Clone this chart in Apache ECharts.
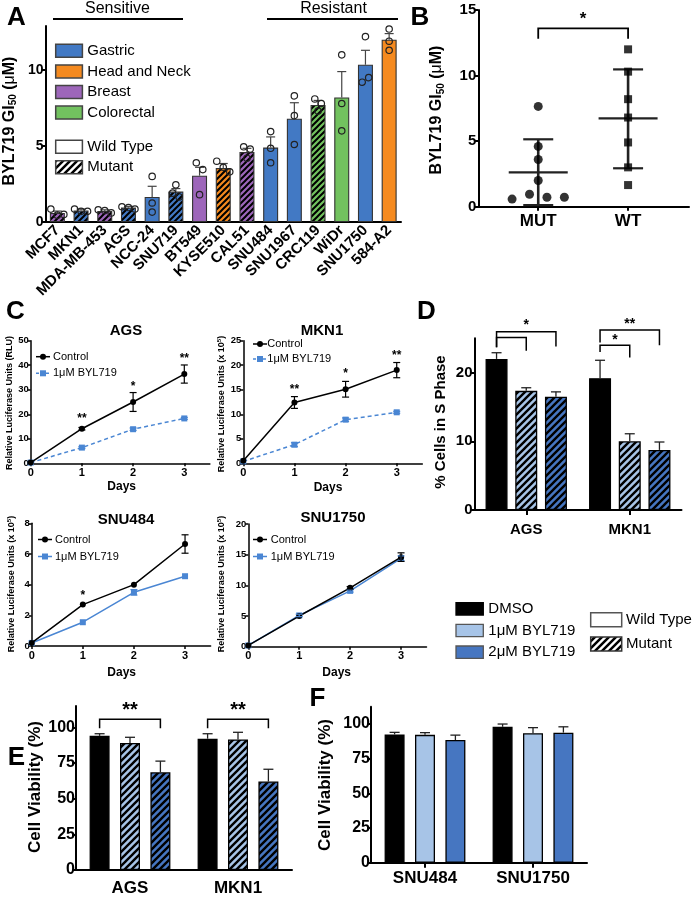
<!DOCTYPE html>
<html>
<head>
<meta charset="utf-8">
<script src="https://cdn.jsdelivr.net/npm/echarts@6.0.0/dist/echarts.min.js"></script>
<style>
html,body{margin:0;padding:0;background:#fff;}
#chart{width:695px;height:900px;}
</style>
</head>
<body>
<div id="chart"></div>
<script>
// ================= DATA =================
// Panel A : BYL719 GI50 per cell line
const aCells = ['MCF7','MKN1','MDA-MB-453','AGS','NCC-24','SNU719','BT549','KYSE510','CAL51','SNU484','SNU1967','CRC119','WiDr','SNU1750','584-A2'];
const aTissue = ['Breast','Gastric','Breast','Gastric','Gastric','Gastric','Breast','Head and Neck','Breast','Gastric','Gastric','Colorectal','Colorectal','Gastric','Head and Neck'];
const aMutant = [1,1,1,1,0,1,0,1,1,0,0,1,0,0,0];
const aGI50 = [0.6,0.75,0.72,0.95,1.65,2.0,3.05,3.55,4.6,4.9,6.8,7.7,8.2,10.35,12.0];
const aSemTop = [0.72,0.85,0.8,1.03,2.35,2.2,3.6,3.85,4.85,5.6,7.85,8.0,9.9,11.3,12.4];
const aReplicates = [[0.85,0.45,0.5],[0.85,0.7,0.7],[0.8,0.75,0.6],[1.0,0.95,0.85],[3.0,1.25,0.65],[2.45,1.9,1.65],[3.9,3.45,1.8],[4.0,3.6,3.3],[4.95,4.8,4.2],[5.95,4.85,3.9],[8.3,7.0,5.1],[8.1,7.8,7.3],[11.0,7.8,6.0],[12.2,9.2,9.5],[12.7,11.9,11.3]];
const aTissueLegend = ['Gastric','Head and Neck','Breast','Colorectal'];
const aStatusLegend = ['Wild Type','Mutant'];
const aGroupLabels = ['Sensitive','Resistant'];
const aYTicks = [0,5,10];

// Panel B : MUT vs WT
const bGroups = ['MUT','WT'];
const bMut = [0.58,0.95,0.72,0.72,2.0,3.6,4.6,7.65];
const bWT = [12.0,10.3,8.2,6.8,4.9,3.0,1.65];
const bMean = [2.62,6.73];
const bSdLow = [0.12,2.93];
const bSdHigh = [5.14,10.47];
const bBracket = [0,1,13.6,12.8,12.8];
const bStar = '*';
const bStarY = 14.6;
const bYTicks = [0,5,10,15];

// Panel C : luciferase growth curves
const cDays = [0,1,2,3];
const cSeriesNames = ['Control','1μM BYL719'];
const cTitles = ['AGS','MKN1','SNU484','SNU1750'];
const cAgsCtrl = [0.3,14.1,25.0,36.4];
const cAgsCtrlErr = [0,0.5,3.85,3.7];
const cAgsByl = [0.3,6.4,13.9,18.3];
const cAgsBylErr = [0,0.4,0.5,0.4];
const cAgsStars = ['','**','*','**'];
const cAgsStarY = [0,19.3,32.3,43.6];
const cAgsTicks = [0,10,20,30,40,50];
const cMkn1Ctrl = [0.5,12.4,15.1,19.0];
const cMkn1CtrlErr = [0,1.2,1.6,1.55];
const cMkn1Byl = [0.4,3.8,8.9,10.4];
const cMkn1BylErr = [0,0.4,0.35,0.2];
const cMkn1Stars = ['','**','*','**'];
const cMkn1StarY = [0,15.6,18.9,22.4];
const cMkn1Ticks = [0,5,10,15,20,25];
const cSnu484Ctrl = [0.2,2.7,4.0,6.65];
const cSnu484CtrlErr = [0,0.08,0.1,0.6];
const cSnu484Byl = [0.2,1.55,3.5,4.55];
const cSnu484BylErr = [0,0.08,0.18,0.08];
const cSnu484Stars = ['','*','',''];
const cSnu484StarY = [0,3.45,0,0];
const cSnu484Ticks = [0,2,4,6,8];
const cSnu1750Ctrl = [0.2,5.0,9.6,14.6];
const cSnu1750CtrlErr = [0,0.15,0.2,0.7];
const cSnu1750Byl = [0.2,5.1,9.1,14.4];
const cSnu1750BylErr = [0,0.2,0.2,0.4];
const cSnu1750Stars = ['','','',''];
const cSnu1750StarY = [0,0,0,0];
const cSnu1750Ticks = [0,5,10,15,20];

// Panel D : % cells in S phase
const dCells = ['AGS','MKN1'];
const dTreat = ['DMSO','1μM BYL719','2μM BYL719'];
const dDMSO = [22.0,19.2];
const d1uM = [17.35,10.0];
const d2uM = [16.5,8.75];
const dDMSOTop = [22.9,21.8];
const d1uMTop = [17.8,11.1];
const d2uMTop = [17.2,9.9];
const dYTicks = [0,10,20];
const dBrackets = [[0,0,2,25.95,23.7,23.8],[0,0,1,25.1,23.7,23.2],[1,0,2,26.2,24.4,24.0],[1,0,1,24.0,23.0,22.2]];
const dStars = ['*','**','*'];
const dStarPos = [[0,1,27.4],[1,1,27.55],[1,0.5,25.15]];

// Panel E : cell viability (mutant lines)
const eCells = ['AGS','MKN1'];
const eDMSO = [94,92];
const e1uM = [89,91.5];
const e2uM = [68.5,62];
const eDMSOTop = [95.5,95.5];
const e1uMTop = [93,96.5];
const e2uMTop = [76.3,70.6];
const eYTicks = [0,25,50,75,100];
const eBrackets = [[0,0,2,105.6,99.3,99.3],[1,0,2,105.6,99.3,99.3]];
const eStars = ['**','**'];
const eStarPos = [[0,1,114.7],[1,1,114.7]];

// Panel F : cell viability (wild type lines)
const fCells = ['SNU484','SNU1750'];
const fDMSO = [92.5,98];
const f1uM = [92.2,93.4];
const f2uM = [88.5,93.8];
const fDMSOTop = [94,100];
const f1uMTop = [93.8,97.4];
const f2uMTop = [92,98];
const fYTicks = [0,25,50,75,100];

// ================= STYLE / HELPERS =================
const FONT = '"Liberation Sans", Arial, Helvetica, sans-serif';
const COL = {'Gastric':'#4279c4','Head and Neck':'#f58a1f','Breast':'#9d66ba','Colorectal':'#72c25f'};
const TREAT_COL = ['#000000','#a7c4e7','#4676c1'];
const BLUE = '#4a86d3';

const hatchCache = {};
function hatch(bg, p, lw) {
  const key = bg + '|' + p + '|' + lw;
  if (hatchCache[key]) return hatchCache[key];
  const c = document.createElement('canvas');
  c.width = p; c.height = p;
  const g = c.getContext('2d');
  g.fillStyle = bg; g.fillRect(0, 0, p, p);
  g.strokeStyle = '#000'; g.lineWidth = lw;
  g.beginPath();
  [0, p, 2 * p].forEach(s => { g.moveTo(s + 3, -3); g.lineTo(-3, s + 3); });
  g.stroke();
  return (hatchCache[key] = { image: c, repeat: 'repeat' });
}

function swarm(vals, thr) {
  const order = vals.map((v, i) => i).sort((a, b) => vals[a] - vals[b]);
  const groups = []; let cur = [];
  order.forEach(i => {
    if (cur.length && vals[i] - vals[cur[cur.length - 1]] > thr) { groups.push(cur); cur = []; }
    cur.push(i);
  });
  if (cur.length) groups.push(cur);
  const off = vals.map(() => 0);
  groups.forEach(g => { g.sort((a, b) => a - b); g.forEach((i, j) => { off[i] = j - (g.length - 1) / 2; }); });
  return off;
}

function errItem(step, cap, color, lw, both) {
  return function (params, api) {
    const c = api.value(0), k = api.value(1), lo = api.value(2), hi = api.value(3);
    const p1 = api.coord([c, lo]), p2 = api.coord([c, hi]);
    const x = p1[0] + k * step;
    const st = { stroke: color, lineWidth: lw };
    const ch = [
      { type: 'line', shape: { x1: x, y1: p1[1], x2: x, y2: p2[1] }, style: st },
      { type: 'line', shape: { x1: x - cap, y1: p2[1], x2: x + cap, y2: p2[1] }, style: st }];
    if (both) ch.push({ type: 'line', shape: { x1: x - cap, y1: p1[1], x2: x + cap, y2: p1[1] }, style: st });
    return { type: 'group', children: ch };
  };
}
function textItem(texts, step, fs) {
  return function (params, api) {
    const p = api.coord([api.value(0), api.value(2)]);
    return { type: 'text', x: p[0] + api.value(1) * step, y: p[1] + 0.22 * fs,
      style: { text: texts[params.dataIndex], fontSize: fs, fontWeight: 'bold', fontFamily: FONT, fill: '#000',
        align: 'center', verticalAlign: 'middle', textAlign: 'center', textVerticalAlign: 'middle' } };
  };
}
function bracketItem(step, color, lw) {
  return function (params, api) {
    const a = api.coord([api.value(0), api.value(4)]), b = api.coord([api.value(2), api.value(4)]);
    const xl = a[0] + api.value(1) * step, xr = b[0] + api.value(3) * step;
    const yl = api.coord([api.value(0), api.value(5)])[1], yr = api.coord([api.value(2), api.value(6)])[1];
    return { type: 'polyline', shape: { points: [[xl, yl], [xl, a[1]], [xr, a[1]], [xr, yr]] },
      style: { stroke: color, lineWidth: lw, fill: null } };
  };
}
function dotItem(step) {
  return function (params, api) {
    const p = api.coord([api.value(0), api.value(2)]);
    return { type: 'circle', shape: { cx: p[0] + api.value(1) * step, cy: p[1], r: 3.2 },
      style: { fill: null, stroke: '#222', lineWidth: 1.2 } };
  };
}
function meanSdItem(halfMean, cap) {
  return function (params, api) {
    const x = api.value(0);
    const pm = api.coord([x, api.value(1)]), pl = api.coord([x, api.value(2)]), ph = api.coord([x, api.value(3)]);
    const st = { stroke: '#222', lineWidth: 2.2 };
    return { type: 'group', children: [
      { type: 'line', shape: { x1: pm[0], y1: pl[1], x2: pm[0], y2: ph[1] }, style: { stroke: '#222', lineWidth: 2.6 } },
      { type: 'line', shape: { x1: pm[0] - halfMean, y1: pm[1], x2: pm[0] + halfMean, y2: pm[1] }, style: st },
      { type: 'line', shape: { x1: pm[0] - cap, y1: pl[1], x2: pm[0] + cap, y2: pl[1] }, style: st },
      { type: 'line', shape: { x1: pm[0] - cap, y1: ph[1], x2: pm[0] + cap, y2: ph[1] }, style: st }] };
  };
}

function vAxis(gi, min, max, ticks, fs, o) {
  o = o || {};
  const lw = o.lw || 2;
  const lab = { show: true, customValues: ticks, fontSize: fs, fontWeight: 'bold', color: '#000', fontFamily: FONT,
    margin: o.margin == null ? 2 : o.margin };
  if (o.fmt) lab.formatter = o.fmt;
  return { type: 'value', gridIndex: gi, min: min, max: max,
    axisLine: { show: true, onZero: false, lineStyle: { color: '#000', width: lw } },
    axisTick: { show: true, length: o.tl || 4, customValues: ticks, lineStyle: { color: '#000', width: lw } },
    axisLabel: lab, splitLine: { show: false } };
}
function cAxis(gi, cats, fs, o) {
  o = o || {};
  const lw = o.lw || 2;
  return { type: 'category', gridIndex: gi, data: cats,
    axisLine: { show: true, onZero: false, lineStyle: { color: '#000', width: lw } },
    axisTick: { show: o.tick !== false, alignWithLabel: true, length: 5, lineStyle: { color: '#000', width: lw } },
    axisLabel: { interval: 0, rotate: o.rotate || 0, fontSize: fs, fontWeight: 'bold', color: '#000', fontFamily: FONT, margin: o.margin || 6 },
    splitLine: { show: false } };
}

// ================= GRAPHIC (texts, legends) =================
const G = [];
function txt(x, y, text, fs, o) {
  o = o || {};
  const st = { text: text, fontSize: fs, fontWeight: o.w || 'bold', fontFamily: FONT, fill: '#000',
    align: o.align || 'center', verticalAlign: 'middle', textAlign: o.align || 'center', textVerticalAlign: 'middle' };
  if (o.rich) st.rich = o.rich;
  G.push({ type: 'text', x: x, y: y, rotation: o.rot || 0, z: 100, silent: true, style: st });
}
function seg(x1, y1, x2, y2, w, c, dash) {
  const st = { stroke: c || '#000', lineWidth: w };
  if (dash) st.lineDash = dash;
  G.push({ type: 'line', z: 100, silent: true, shape: { x1: x1, y1: y1, x2: x2, y2: y2 }, style: st });
}
function box(x, y, w, h, fill, stroke, lw) {
  G.push({ type: 'rect', z: 100, silent: true, shape: { x: x, y: y, width: w, height: h },
    style: { fill: fill, stroke: stroke || '#333', lineWidth: lw || 1.5 } });
}
function dot(cx, cy, r, c) { G.push({ type: 'circle', z: 101, silent: true, shape: { cx: cx, cy: cy, r: r }, style: { fill: c } }); }

// panel letters
txt(16.5, 18, 'A', 26); txt(420, 18, 'B', 26); txt(15.5, 312, 'C', 26);
txt(426.5, 312, 'D', 26); txt(16.5, 758, 'E', 26); txt(317.5, 699, 'F', 26);

// A: group labels
txt(117.5, 8.5, aGroupLabels[0], 16, { w: 'normal' }); seg(53, 19, 183, 19, 1.8);
txt(333.5, 8.5, aGroupLabels[1], 16, { w: 'normal' }); seg(267, 19, 398, 19, 1.8);
// A legend
aTissueLegend.forEach((t, i) => {
  const y = 50.8 + i * 20.6;
  box(55.7, y - 6.5, 26.7, 13, COL[t], '#444', 1.5);
  txt(87.3, y, t, 15, { w: 'normal', align: 'left' });
});
aStatusLegend.forEach((t, i) => {
  const y = 146.7 + i * 20.6;
  box(55.7, y - 6.5, 26.7, 13, i ? hatch('#ffffff', 7, 2.5) : '#ffffff', '#444', 1.5);
  txt(87.3, y, t, 15, { w: 'normal', align: 'left' });
});
const gi50Rich = { b: { fontSize: 16, fontWeight: 'bold', fontFamily: FONT },
  s: { fontSize: 10, fontWeight: 'bold', fontFamily: FONT, padding: [8, 0, 0, 0] },
  m: { fontSize: 16, fontWeight: 'normal', fontFamily: FONT } };
txt(9.5, 121, '{b|BYL719 GI}{s|50}{b| (}{m|μ}{b|M)}', 16, { rot: Math.PI / 2, rich: gi50Rich });
txt(437, 110, '{b|BYL719 GI}{s|50}{b| (}{m|μ}{b|M)}', 16, { rot: Math.PI / 2, rich: gi50Rich });

// C titles / axis names / legends
const cTitlePos = [[126, 331], [322, 331], [126, 520], [333, 518]];
cTitles.forEach((t, i) => txt(cTitlePos[i][0], cTitlePos[i][1], t, 15));
const cDaysPos = [[121.7, 487], [328, 488], [121.7, 672.7], [336.7, 672.7]];
cDaysPos.forEach(p => txt(p[0], p[1], 'Days', 12));
const supRich = { b: { fontSize: 9, fontWeight: 'bold', fontFamily: FONT },
  p: { fontSize: 6, fontWeight: 'bold', fontFamily: FONT, padding: [0, 0, 5, 0] } };
txt(10, 403, 'Relative Luciferase Units (RLU)', 9, { rot: Math.PI / 2 });
txt(221.7, 404, '{b|Relative Luciferase Units (x 10}{p|5}{b|)}', 9, { rot: Math.PI / 2, rich: supRich });
txt(11.5, 584, '{b|Relative Luciferase Units (x 10}{p|5}{b|)}', 9, { rot: Math.PI / 2, rich: supRich });
txt(221.5, 584, '{b|Relative Luciferase Units (x 10}{p|5}{b|)}', 9, { rot: Math.PI / 2, rich: supRich });
function cLegend(mx, y0, dy, tx, dashed) {
  seg(mx - 7, y0, mx + 7, y0, 1.5, '#000'); dot(mx, y0, 3, '#000');
  txt(tx, y0, cSeriesNames[0], 11, { w: 'normal', align: 'left' });
  seg(mx - 7, y0 + dy, mx + 7, y0 + dy, 1.5, BLUE, dashed ? [3, 2] : null);
  G.push({ type: 'rect', z: 101, silent: true, shape: { x: mx - 3, y: y0 + dy - 3, width: 6, height: 6 }, style: { fill: BLUE } });
  txt(tx, y0 + dy, cSeriesNames[1], 11, { w: 'normal', align: 'left' });
}
cLegend(43, 356.7, 16.6, 53, true);
cLegend(260, 344, 15, 267.3, true);
cLegend(45, 539.5, 17, 55, false);
cLegend(260, 539.5, 17, 270.7, false);

// D axis name, legends
txt(441, 422, '% Cells in S Phase', 15, { rot: Math.PI / 2 });
dTreat.forEach((t, i) => {
  const y = 608.8 + i * 21.7;
  box(456, y - 6.2, 27.3, 12.4, TREAT_COL[i], i === 0 ? '#000' : '#555', 1.3);
  txt(488.3, y, t, 15, { w: 'normal', align: 'left' });
});
box(590.7, 612.7, 31, 14, '#ffffff', '#555', 1.5);
txt(626, 620, aStatusLegend[0], 15, { w: 'normal', align: 'left' });
box(590.7, 637, 31, 14, hatch('#ffffff', 7, 2.5), '#333', 1.5);
txt(626, 644, aStatusLegend[1], 15, { w: 'normal', align: 'left' });

// E / F axis names
txt(35, 787, 'Cell Viability (%)', 17, { rot: Math.PI / 2 });
txt(325, 785, 'Cell Viability (%)', 17, { rot: Math.PI / 2 });

// ================= SERIES =================
const S = [];
// ---- A ----
S.push({ type: 'bar', xAxisIndex: 0, yAxisIndex: 0, barWidth: 15, z: 2,
  itemStyle: { borderColor: '#333', borderWidth: 1.1 },
  data: aGI50.map((v, i) => ({ value: v, itemStyle: { color: aMutant[i] ? hatch(COL[aTissue[i]], 6, 2) : COL[aTissue[i]] } })) });
S.push({ type: 'custom', xAxisIndex: 0, yAxisIndex: 0, z: 3, silent: true,
  renderItem: errItem(0, 4.5, '#444', 1.2, false), data: aGI50.map((v, i) => [i, 0, v, aSemTop[i]]) });
const aDots = [];
aReplicates.forEach((r, i) => { const off = swarm(r, 0.45); r.forEach((v, j) => aDots.push([i, off[j], v])); });
S.push({ type: 'custom', xAxisIndex: 0, yAxisIndex: 0, z: 4, silent: true, renderItem: dotItem(6.5), data: aDots });

// ---- B ----
const offM = swarm(bMut, 0.5), offW = swarm(bWT, 0.5);
S.push({ type: 'scatter', xAxisIndex: 1, yAxisIndex: 1, z: 4, symbol: 'circle', symbolSize: 9, itemStyle: { color: '#000' },
  data: bMut.map((v, i) => [0 + offM[i] * 0.194, v]) });
S.push({ type: 'scatter', xAxisIndex: 1, yAxisIndex: 1, z: 4, symbol: 'rect', symbolSize: 8, itemStyle: { color: '#000' },
  data: bWT.map((v, i) => [1 + offW[i] * 0.194, v]) });
S.push({ type: 'custom', xAxisIndex: 1, yAxisIndex: 1, z: 3, silent: true, renderItem: meanSdItem(29.5, 15),
  data: bGroups.map((g, i) => [i, bMean[i], bSdLow[i], bSdHigh[i]]) });
S.push({ type: 'custom', xAxisIndex: 1, yAxisIndex: 1, z: 3, silent: true, renderItem: bracketItem(0, '#000', 1.8),
  data: [[bBracket[0], 0, bBracket[1], 0, bBracket[2], bBracket[3], bBracket[4]]] });
S.push({ type: 'custom', xAxisIndex: 1, yAxisIndex: 1, z: 3, silent: true, renderItem: textItem([bStar], 0, 17),
  data: [[(bBracket[0] + bBracket[1]) / 2, 0, bStarY]] });

// ---- C ----
const cPanels = [
  { gi: 2, ctrl: cAgsCtrl, ctrlErr: cAgsCtrlErr, byl: cAgsByl, bylErr: cAgsBylErr, stars: cAgsStars, starY: cAgsStarY, dashed: true },
  { gi: 3, ctrl: cMkn1Ctrl, ctrlErr: cMkn1CtrlErr, byl: cMkn1Byl, bylErr: cMkn1BylErr, stars: cMkn1Stars, starY: cMkn1StarY, dashed: true },
  { gi: 4, ctrl: cSnu484Ctrl, ctrlErr: cSnu484CtrlErr, byl: cSnu484Byl, bylErr: cSnu484BylErr, stars: cSnu484Stars, starY: cSnu484StarY, dashed: false },
  { gi: 5, ctrl: cSnu1750Ctrl, ctrlErr: cSnu1750CtrlErr, byl: cSnu1750Byl, bylErr: cSnu1750BylErr, stars: cSnu1750Stars, starY: cSnu1750StarY, dashed: false }
];
cPanels.forEach(p => {
  const ax = { xAxisIndex: p.gi, yAxisIndex: p.gi };
  S.push(Object.assign({ type: 'line', name: cSeriesNames[1], z: 3, symbol: 'rect', symbolSize: 6,
    lineStyle: { color: BLUE, width: 1.5, type: p.dashed ? [4, 3] : 'solid' }, itemStyle: { color: BLUE },
    data: cDays.map((d, i) => [d, p.byl[i]]) }, ax));
  S.push(Object.assign({ type: 'line', name: cSeriesNames[0], z: 4, symbol: 'circle', symbolSize: 6,
    lineStyle: { color: '#000', width: 1.5 }, itemStyle: { color: '#000' },
    data: cDays.map((d, i) => [d, p.ctrl[i]]) }, ax));
  S.push(Object.assign({ type: 'custom', z: 5, silent: true, renderItem: errItem(0, 3.5, BLUE, 1.2, true),
    data: cDays.map((d, i) => [d, 0, p.byl[i] - p.bylErr[i], p.byl[i] + p.bylErr[i]]).filter((r, i) => p.bylErr[i] > 0.15) }, ax));
  S.push(Object.assign({ type: 'custom', z: 5, silent: true, renderItem: errItem(0, 3.5, '#000', 1.2, true),
    data: cDays.map((d, i) => [d, 0, p.ctrl[i] - p.ctrlErr[i], p.ctrl[i] + p.ctrlErr[i]]).filter((r, i) => p.ctrlErr[i] > 0.15) }, ax));
  const st = p.stars.filter(s => s);
  if (st.length) S.push(Object.assign({ type: 'custom', z: 5, silent: true, renderItem: textItem(st, 0, 12),
    data: cDays.map((d, i) => [d, 0, p.starY[i]]).filter((r, i) => p.stars[i]) }, ax));
});

// ---- D / E / F bars ----
function barPanel(gi, vals, tops, bw, gap, hatched, lwBorder) {
  const step = bw * (1 + gap);
  vals.forEach((arr, k) => S.push({ type: 'bar', xAxisIndex: gi, yAxisIndex: gi, barWidth: bw, barGap: (gap * 100) + '%', z: 2,
    itemStyle: { color: (hatched && k > 0) ? hatch(TREAT_COL[k], 7, 2.4) : TREAT_COL[k], borderColor: '#000', borderWidth: lwBorder },
    data: arr }));
  const ed = [];
  vals.forEach((arr, k) => arr.forEach((v, c) => ed.push([c, k - 1, v, tops[k][c]])));
  S.push({ type: 'custom', xAxisIndex: gi, yAxisIndex: gi, z: 3, silent: true, renderItem: errItem(step, 5, '#222', 1.3, false), data: ed });
  return step;
}
const dStep = barPanel(6, [dDMSO, d1uM, d2uM], [dDMSOTop, d1uMTop, d2uMTop], 22, 0.35, true, 1.3);
S.push({ type: 'custom', xAxisIndex: 6, yAxisIndex: 6, z: 3, silent: true, renderItem: bracketItem(dStep, '#000', 1.5),
  data: dBrackets.map(b => [b[0], b[1] - 1, b[0], b[2] - 1, b[3], b[4], b[5]]) });
S.push({ type: 'custom', xAxisIndex: 6, yAxisIndex: 6, z: 3, silent: true, renderItem: textItem(dStars, dStep, 14),
  data: dStarPos.map(s => [s[0], s[1] - 1, s[2]]) });

const eStep = barPanel(7, [eDMSO, e1uM, e2uM], [eDMSOTop, e1uMTop, e2uMTop], 20, 0.52, true, 1.3);
S.push({ type: 'custom', xAxisIndex: 7, yAxisIndex: 7, z: 3, silent: true, renderItem: bracketItem(eStep, '#000', 1.5),
  data: eBrackets.map(b => [b[0], b[1] - 1, b[0], b[2] - 1, b[3], b[4], b[5]]) });
S.push({ type: 'custom', xAxisIndex: 7, yAxisIndex: 7, z: 3, silent: true, renderItem: textItem(eStars, eStep, 20),
  data: eStarPos.map(s => [s[0], s[1] - 1, s[2]]) });

barPanel(8, [fDMSO, f1uM, f2uM], [fDMSOTop, f1uMTop, f2uMTop], 20, 0.52, false, 1.3);

// ================= OPTION =================
const option = {
  animation: false,
  backgroundColor: '#ffffff',
  textStyle: { fontFamily: FONT },
  grid: [
    { left: 45.5, top: 26, width: 355.5, height: 196 },
    { left: 478.3, top: 10, width: 210.7, height: 196.7 },
    { left: 30.7, top: 340.7, width: 179.2, height: 122.6 },
    { left: 243.3, top: 340.7, width: 179, height: 122.6 },
    { left: 31.7, top: 523.3, width: 178.9, height: 122.7 },
    { left: 248.3, top: 524, width: 178.2, height: 122.7 },
    { left: 474.5, top: 338.3, width: 207, height: 171.7 },
    { left: 76, top: 705.9, width: 216, height: 164.1 },
    { left: 371, top: 706.7, width: 216, height: 156 }
  ],
  xAxis: [
    cAxis(0, aCells, 15, { tick: false, rotate: 45, margin: 6 }),
    vAxis(1, -0.667, 1.678, [0, 1], 17, { fmt: v => bGroups[Math.round(v)], margin: 6 }),
    vAxis(2, 0, 3.5, cDays, 11, { lw: 1.5, tl: 3, margin: 4 }),
    vAxis(3, 0, 3.5, cDays, 11, { lw: 1.5, tl: 3, margin: 4 }),
    vAxis(4, 0, 3.5, cDays, 11, { lw: 1.5, tl: 3, margin: 4 }),
    vAxis(5, 0, 3.5, cDays, 11, { lw: 1.5, tl: 3, margin: 4 }),
    cAxis(6, dCells, 15, { margin: 12 }),
    cAxis(7, eCells, 17, { tick: false, margin: 10 }),
    cAxis(8, fCells, 17, { margin: 7 })
  ],
  yAxis: [
    vAxis(0, 0, 12.9, aYTicks, 14),
    vAxis(1, 0, 15, bYTicks, 15),
    vAxis(2, 0, 50, cAgsTicks, 9.5, { lw: 1.5, tl: 3 }),
    vAxis(3, 0, 25, cMkn1Ticks, 9.5, { lw: 1.5, tl: 3 }),
    vAxis(4, 0, 8, cSnu484Ticks, 9.5, { lw: 1.5, tl: 3 }),
    vAxis(5, 0, 20, cSnu1750Ticks, 9.5, { lw: 1.5, tl: 3 }),
    vAxis(6, 0, 25, dYTicks, 15),
    vAxis(7, 0, 115, eYTicks, 16, { margin: 1 }),
    vAxis(8, 0, 112.5, fYTicks, 16, { margin: 1 })
  ],
  series: S,
  graphic: { elements: G }
};
const chart = echarts.init(document.getElementById('chart'), null, { renderer: 'canvas' });
chart.setOption(option);
</script>
</body>
</html>
